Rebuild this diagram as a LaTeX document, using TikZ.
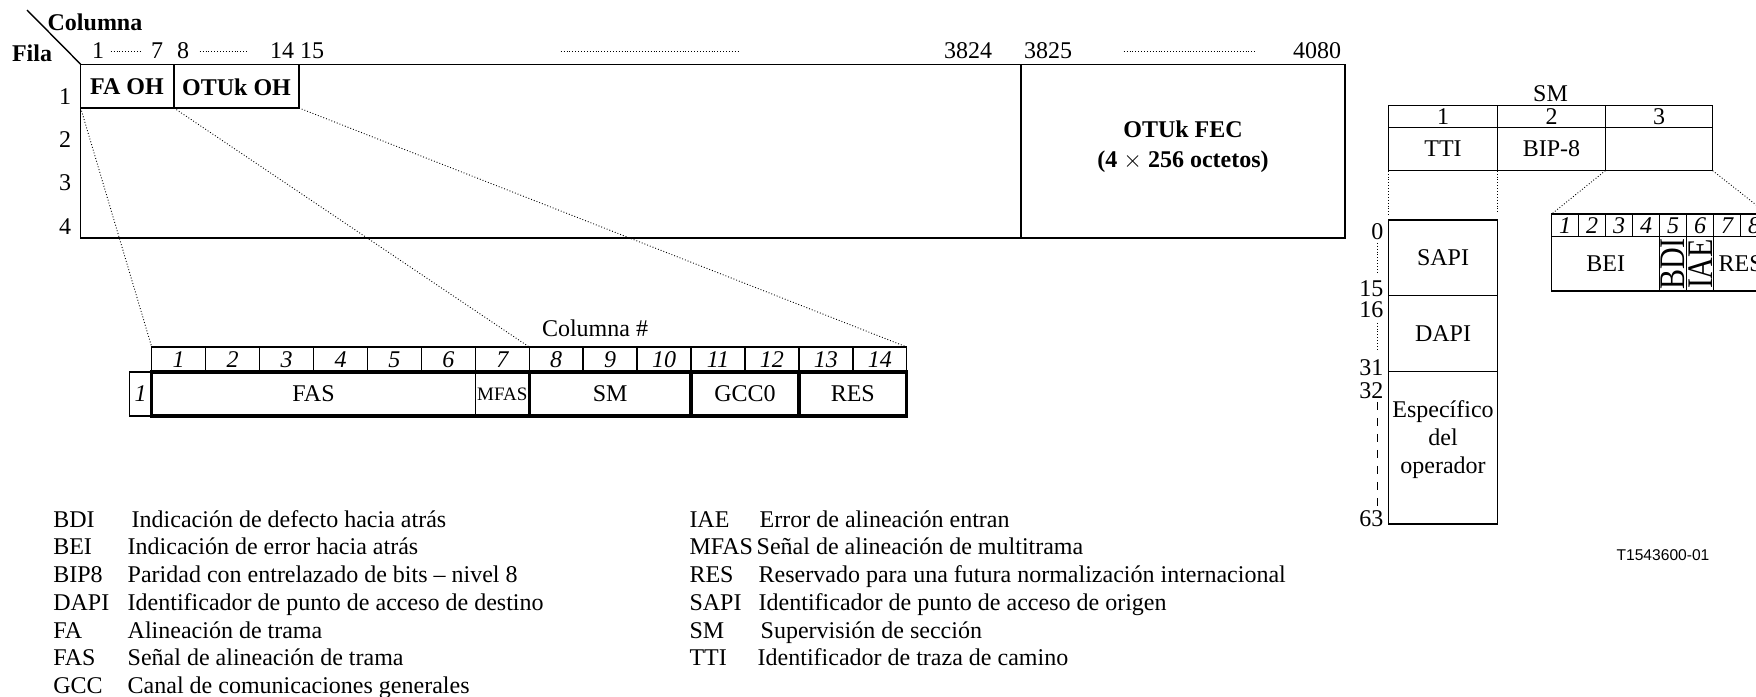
\documentclass[tikz,border=0pt]{standalone}
\usepackage{fontspec}
\setmainfont{Liberation Serif}
\newfontfamily\labelsans{Liberation Sans}

\begin{document}
\begin{tikzpicture}[x=0.5pt, y=-0.5pt, line width=0.7pt,
		txt/.style={inner sep=0pt, font=\fontsize{12}{14}\selectfont},
		boldtxt/.style={inner sep=0pt, font=\fontsize{12}{14}\selectfont\bfseries},
		num/.style={inner sep=0pt, font=\fontsize{12}{14}\selectfont\itshape},
		leg/.style={txt, anchor=west, text height=1.6ex, text depth=0.45ex},
		fan/.style={densely dotted, line width=0.45pt},
		heavy/.style={line width=1.6pt}]
		\useasboundingbox (0,0) rectangle (1756,696);
		\clip (0,0) rectangle (1756,696);

		\draw (27,10) -- (80.7,64.3);
		\node[boldtxt] (columna) at (95,22) {Columna};
		\node[boldtxt] (fila) at (32,53) {Fila};
		\node[txt] (c1) at (98,51) {1};
		\node[txt] (c7) at (157,51) {7};
		\node[txt] (c8) at (183,51) {8};
		\node[txt] (c14) at (282,51) {14};
		\node[txt] (c15) at (312,51) {15};
		\node[txt] (c3824) at (968,51) {3824};
		\node[txt] (c3825) at (1048,51) {3825};
		\node[txt] (c4080) at (1317,51) {4080};
		\draw[fan, shorten <=3pt, shorten >=4.5pt] (c1) -- (c7);
		\draw[fan, shorten <=5pt, shorten >=11.5pt] (c8) -- (c14);
		\draw[fan, shorten <=118pt, shorten >=102pt] (c15) -- (c3824);
		\draw[fan, shorten <=25.5pt, shorten >=18pt] (c3825) -- (c4080);
		\node[txt] (r1) at (65,97) {1};
		\node[txt] (r2) at (65,140) {2};
		\node[txt] (r3) at (65,183) {3};
		\node[txt] (r4) at (65,227) {4};

		\draw (80.7,64.3) rectangle (1345,238);
		\draw (80.7,108) -- (299,108) -- (299,64.3);
		\draw (174,64.3) -- (174,108);
		\draw (1021,64.3) -- (1021,238);
		\node[boldtxt] (faoh) at (127,87) {FA OH};
		\node[boldtxt] (otukoh) at (236.5,87) {OTUk OH};
		\node[boldtxt, align=center] (fec) at (1183,147) {OTUk FEC\\[1pt](4 $\times$ 256 octetos)};

		\coordinate (oh1) at (80.7,108);
		\coordinate (oh2) at (174,108);
		\coordinate (oh3) at (299,108);
		\coordinate (sub1) at (151.7,347);
		\coordinate (sub8) at (529.2,347);
		\coordinate (sub15) at (906.7,347);
		\draw[fan] (oh1) -- (sub1);
		\draw[fan] (oh2) -- (sub8);
		\draw[fan] (oh3) -- (sub15);

		\node[txt] (colnum) at (595,328) {Columna \#};
		\draw (151.7,347) rectangle (906.7,372);
		\draw (205.6,347) -- (205.6,372) (259.6,347) -- (259.6,372) (313.5,347) -- (313.5,372) (367.4,347) -- (367.4,372);
		\draw (421.4,347) -- (421.4,372) (475.3,347) -- (475.3,372) (529.2,347) -- (529.2,372) (583.1,347) -- (583.1,372);
		\draw (637.1,347) -- (637.1,372) (691,347) -- (691,372) (744.9,347) -- (744.9,372) (798.9,347) -- (798.9,372);
		\draw (852.8,347) -- (852.8,372);
		\node[num] (n1) at (178.7,359.5) {1};
		\node[num] (n2) at (232.6,359.5) {2};
		\node[num] (n3) at (286.5,359.5) {3};
		\node[num] (n4) at (340.5,359.5) {4};
		\node[num] (n5) at (394.4,359.5) {5};
		\node[num] (n6) at (448.3,359.5) {6};
		\node[num] (n7) at (502.3,359.5) {7};
		\node[num] (n8) at (556.2,359.5) {8};
		\node[num] (n9) at (610.1,359.5) {9};
		\node[num] (n10) at (664,359.5) {10};
		\node[num] (n11) at (718,359.5) {11};
		\node[num] (n12) at (771.9,359.5) {12};
		\node[num] (n13) at (825.8,359.5) {13};
		\node[num] (n14) at (879.8,359.5) {14};
		\draw (129.3,372) rectangle (151.7,416);
		\node[num] (row1) at (140.5,394) {1};
		\draw (475.3,372) -- (475.3,416);
		\draw[heavy] (151.7,372) rectangle (906.7,416);
		\draw[heavy] (529.2,372) -- (529.2,416);
		\draw[heavy] (691,372) -- (691,416);
		\draw[heavy] (798.9,372) -- (798.9,416);
		\node[txt] (fas) at (313.5,394) {FAS};
		\node[txt, font=\fontsize{9.5}{11}\selectfont] (mfas) at (502.3,394) {MFAS};
		\node[txt] (sm) at (610.1,394) {SM};
		\node[txt] (gcc) at (745,394) {GCC0};
		\node[txt] (res) at (852.8,394) {RES};

		\node[txt] (smtitle) at (1550.5,94) {SM};
		\draw (1388.3,105.7) rectangle (1712.7,170.7);
		\draw (1388.3,127.3) -- (1712.7,127.3);
		\draw (1497.7,105.7) -- (1497.7,170.7);
		\draw (1605.3,105.7) -- (1605.3,170.7);
		\node[txt] (sm1) at (1443,117) {1};
		\node[txt] (sm2) at (1551.5,117) {2};
		\node[txt] (sm3) at (1659,117) {3};
		\node[txt] (tti) at (1443,149) {TTI};
		\node[txt] (bip) at (1551.5,149) {BIP-8};

		\coordinate (tt1) at (1388.3,170.7);
		\coordinate (tt2) at (1497.7,170.7);
		\coordinate (tt3) at (1605.3,170.7);
		\coordinate (tt4) at (1712.7,170.7);
		\coordinate (ttia) at (1388.3,216.7);
		\coordinate (ttib) at (1497.7,212.7);
		\coordinate (bit1) at (1551.7,214);
		\coordinate (bit9) at (1767.7,214);
		\draw[fan] (tt1) -- (ttia);
		\draw[fan] (tt2) -- (ttib);
		\draw[fan] (tt3) -- (bit1);
		\draw[fan] (tt4) -- (bit9);

		\draw (1388.3,220) rectangle (1497.7,524);
		\draw (1388.3,295.7) -- (1497.7,295.7);
		\draw (1388.3,371.7) -- (1497.7,371.7);
		\node[txt] (sapi) at (1443,258) {SAPI};
		\node[txt] (dapi) at (1443,334) {DAPI};
		\node[txt, align=center] (oper) at (1443,440) {Específico\\del\\operador};
		\node[txt, anchor=east] (b0) at (1384,232) {0};
		\node[txt, anchor=east] (b15) at (1384,289) {15};
		\node[txt, anchor=east] (b16) at (1384,310) {16};
		\node[txt, anchor=east] (b31) at (1384,368) {31};
		\node[txt, anchor=east] (b32) at (1384,391) {32};
		\node[txt, anchor=east] (b63) at (1384,519) {63};
		\draw[fan, shorten <=1pt, shorten >=3pt] (b0.south) -- (b0.south |- b15.north);
		\draw[fan, shorten <=2pt, shorten >=5pt] (b0.south |- b16.south) -- (b0.south |- b31.north);
		\draw[line width=0.45pt, dash pattern=on 4pt off 4pt, shorten <=1pt, shorten >=2pt] (b0.south |- b32.south) -- (b0.south |- b63.north);

		\draw (1551.7,214) rectangle (1767.7,291);
		\draw (1551.7,236.7) -- (1767.7,236.7);
		\draw (1578.7,214) -- (1578.7,236.7) (1605.7,214) -- (1605.7,236.7) (1632.7,214) -- (1632.7,236.7) (1740.7,214) -- (1740.7,236.7);
		\draw (1659.7,214) -- (1659.7,291) (1686.7,214) -- (1686.7,291) (1713.7,214) -- (1713.7,291);
		\node[num] (bit1n) at (1565.2,225.5) {1};
		\node[num] (bit2n) at (1592.2,225.5) {2};
		\node[num] (bit3n) at (1619.2,225.5) {3};
		\node[num] (bit4n) at (1646.2,225.5) {4};
		\node[num] (bit5n) at (1673.2,225.5) {5};
		\node[num] (bit6n) at (1700.2,225.5) {6};
		\node[num] (bit7n) at (1727.2,225.5) {7};
		\node[num] (bit8n) at (1754.2,225.5) {8};
		\node[txt] (bei) at (1605.7,264) {BEI};
		\node[txt, rotate=90] (bdi) at (1673.2,264) {\scalebox{1.25}[1.5]{BDI}};
		\node[txt, rotate=90] (iae) at (1700.2,264) {\scalebox{1.25}[1.5]{IAE}};
		\node[txt] (bres) at (1740.7,264) {RES};
		\node[inner sep=0pt, font=\labelsans\fontsize{7.8}{9}\selectfont] (fig) at (1663,555) {T1543600-01};

		\node[leg] (kbdi) at (52.6,522) {BDI};
		\node[leg] (tbdi) at (131,522) {Indicación de defecto hacia atrás};
		\node[leg] (kbei) at (52.6,549.7) {BEI};
		\node[leg] (tbei) at (127,549.7) {Indicación de error hacia atrás};
		\node[leg] (kbip) at (52.6,577.4) {BIP8};
		\node[leg] (tbip) at (127,577.4) {Paridad con entrelazado de bits – nivel 8};
		\node[leg] (kdapi) at (52.6,605.1) {DAPI};
		\node[leg] (tdapi) at (127,605.1) {Identificador de punto de acceso de destino};
		\node[leg] (kfa) at (52.6,632.8) {FA};
		\node[leg] (tfa) at (127,632.8) {Alineación de trama};
		\node[leg] (kfas) at (52.6,660.5) {FAS};
		\node[leg] (tfas) at (127,660.5) {Señal de alineación de trama};
		\node[leg] (kgcc) at (52.6,688.2) {GCC};
		\node[leg] (tgcc) at (127,688.2) {Canal de comunicaciones generales};

		\node[leg] (kiae) at (688.8,522) {IAE};
		\node[leg] (tiae) at (759,522) {Error de alineación entran};
		\node[leg] (kmfas) at (688.8,549.7) {MFAS};
		\node[leg] (tmfas) at (756,549.7) {Señal de alineación de multitrama};
		\node[leg] (kres) at (688.8,577.4) {RES};
		\node[leg] (tres) at (758,577.4) {Reservado para una futura normalización internacional};
		\node[leg] (ksapi) at (688.8,605.1) {SAPI};
		\node[leg] (tsapi) at (758,605.1) {Identificador de punto de acceso de origen};
		\node[leg] (ksm) at (688.8,632.8) {SM};
		\node[leg] (tsm) at (760,632.8) {Supervisión de sección};
		\node[leg] (ktti) at (688.8,660.5) {TTI};
		\node[leg] (ttti) at (757,660.5) {Identificador de traza de camino};
	\end{tikzpicture}
\end{document}
